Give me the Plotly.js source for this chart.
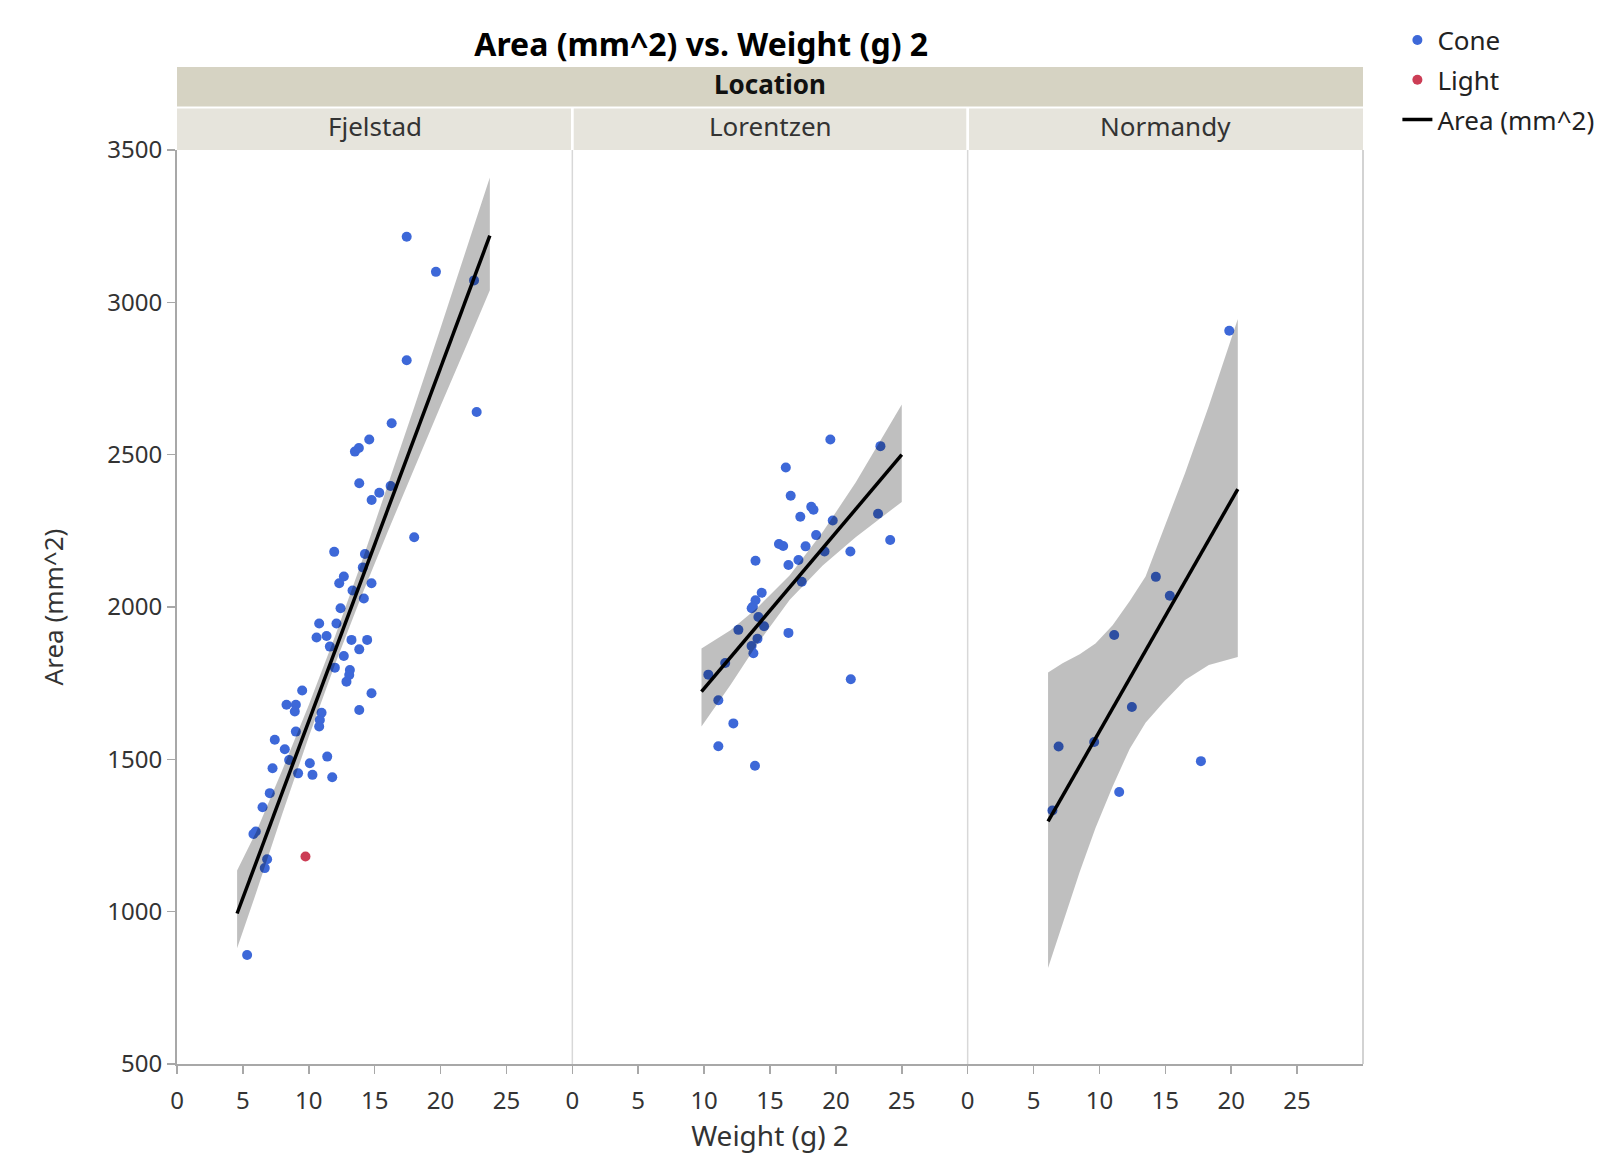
<!DOCTYPE html>
<html>
<head>
<meta charset="utf-8">
<script src="https://cdn.plot.ly/plotly-3.0.1.min.js"></script>
<style>
html,body{margin:0;padding:0;background:#fff;overflow:hidden;}
#chart{width:1597px;height:1157px;}
</style>
</head>
<body>
<div id="chart"></div>
<script>
// ---- Data ----
const locations = ["Fjelstad", "Lorentzen", "Normandy"];
const xTicks = [0, 5, 10, 15, 20, 25];
const yTicks = [500, 1000, 1500, 2000, 2500, 3000, 3500];

// Fjelstad – Cone
const fjelstadConeX = [17.43,19.65,22.54,17.43,22.74,16.29,14.59,13.5,13.8,13.83,15.35,14.77,16.21,18.0,11.93,14.26,14.1,
  12.66,12.31,14.76,13.32,14.18,12.41,10.79,12.1,10.59,11.35,11.6,13.24,14.43,13.83,12.66,11.98,13.12,13.07,12.86,
  14.76,13.83,9.5,8.31,9.02,8.94,10.97,10.84,10.79,9.02,7.42,8.18,8.51,11.4,10.08,9.19,10.28,11.78,7.25,7.04,6.49,
  5.98,5.8,6.84,6.66,5.32];
const fjelstadConeY = [3215,3100,3072,2810,2640,2603,2550,2510,2522,2406,2375,2351,2397,2229,2181,2174,2130,
  2100,2078,2078,2054,2028,1996,1946,1946,1900,1905,1870,1892,1892,1861,1839,1801,1793,1777,1755,
  1717,1662,1726,1679,1679,1657,1653,1629,1608,1591,1564,1533,1498,1509,1487,1454,1449,1441,1471,1389,1343,
  1263,1255,1172,1143,858];
// Fjelstad – Light
const fjelstadLightX = [9.75];
const fjelstadLightY = [1181];

// Lorentzen – Cone
const lorentzenConeX = [19.58,23.38,16.2,16.57,18.13,18.3,17.3,19.76,23.2,24.12,18.5,17.7,15.68,16.0,19.14,21.1,17.16,
  16.4,13.9,17.41,14.37,13.9,13.7,13.61,14.12,14.55,12.6,16.4,14.05,13.6,13.74,10.32,11.08,12.22,11.08,13.86,21.13,11.6];
const lorentzenConeY = [2550,2528,2458,2365,2329,2319,2296,2284,2306,2220,2236,2199,2207,2200,2182,2182,2154,
  2138,2152,2083,2047,2022,2001,1996,1967,1937,1925,1915,1896,1872,1848,1778,1694,1618,1543,1479,1763,1816];

// Normandy – Cone
const normandyConeX = [19.85,14.28,15.34,11.12,12.46,6.9,9.6,17.7,11.5,6.43];
const normandyConeY = [2907,2099,2037,1908,1672,1542,1557,1494,1393,1332];

// Linear fits (end points) and confidence bands
const fjelstadFitX = [4.56, 23.74];
const fjelstadFitY = [994, 3219];
const fjelstadBandX  = [4.56, 6, 8, 10, 12, 14, 16, 18, 20, 22, 23.74];
const fjelstadBandLo = [880, 1061, 1322, 1574, 1813, 2036, 2248, 2456, 2660, 2862, 3040];
const fjelstadBandHi = [1135, 1261, 1466, 1678, 1905, 2146, 2398, 2656, 2916, 3178, 3410];

const lorentzenFitX = [9.8, 25.0];
const lorentzenFitY = [1722, 2500];
const lorentzenBandX  = [9.8, 12, 14, 16.5, 19, 21.5, 25.0];
const lorentzenBandLo = [1608, 1744, 1876, 2024, 2136, 2229, 2345];
const lorentzenBandHi = [1864, 1924, 1996, 2104, 2246, 2409, 2665];

const normandyFitX = [6.1, 20.5];
const normandyFitY = [1296, 2387];
const normandyBandX  = [6.1, 7.2, 8.5, 9.7, 11.0, 12.3, 13.5, 14.8, 16.5, 18.3, 20.5];
const normandyBandLo = [815, 962, 1130, 1275, 1411, 1535, 1620, 1684, 1760, 1810, 1836];
const normandyBandHi = [1785, 1815, 1845, 1880, 1940, 2020, 2100, 2250, 2440, 2660, 2945];

// ---- Styling ----
const FONT = "'Noto Sans', 'Open Sans', sans-serif";
const BLUE = "#3d68d8";
const RED = "#cc3d55";
const AX = "#a8a8a8";

function bandTrace(bx, lo, hi, xa) {
  return {
    type: "scatter", mode: "lines", xaxis: xa, yaxis: "y",
    x: bx.concat(bx.slice().reverse()),
    y: lo.concat(hi.slice().reverse()),
    fill: "toself", fillcolor: "rgba(0,0,0,0.25)",
    line: {width: 0, color: "rgba(0,0,0,0)"},
    showlegend: false, hoverinfo: "skip"
  };
}
function pointTrace(x, y, xa, name, color, show, group, rank) {
  return {
    type: "scatter", mode: "markers", xaxis: xa, yaxis: "y",
    x: x, y: y, name: name, legendgroup: group, showlegend: show, legendrank: rank,
    marker: {color: color, size: 10, line: {width: 0}}
  };
}
function fitTrace(x, y, xa, show) {
  return {
    type: "scatter", mode: "lines", xaxis: xa, yaxis: "y",
    x: x, y: y, name: "Area (mm^2)", legendgroup: "fit", showlegend: show, legendrank: 3,
    line: {color: "#000", width: 3.5}
  };
}

const data = [
  pointTrace(fjelstadConeX, fjelstadConeY, "x", "Cone", BLUE, true, "cone", 1),
  pointTrace(fjelstadLightX, fjelstadLightY, "x", "Light", RED, true, "light", 2),
  pointTrace(lorentzenConeX, lorentzenConeY, "x2", "Cone", BLUE, false, "cone", 1),
  pointTrace(normandyConeX, normandyConeY, "x3", "Cone", BLUE, false, "cone", 1),
  bandTrace(fjelstadBandX, fjelstadBandLo, fjelstadBandHi, "x"),
  bandTrace(lorentzenBandX, lorentzenBandLo, lorentzenBandHi, "x2"),
  bandTrace(normandyBandX, normandyBandLo, normandyBandHi, "x3"),
  fitTrace(fjelstadFitX, fjelstadFitY, "x", true),
  fitTrace(lorentzenFitX, lorentzenFitY, "x2", false),
  fitTrace(normandyFitX, normandyFitY, "x3", false)
];

function xAxis(domain, title) {
  const a = {
    domain: domain, range: [0, 30], anchor: "y",
    tickmode: "array", tickvals: xTicks, ticktext: xTicks.map(String),
    ticks: "outside", ticklen: 8, tickwidth: 1.5, tickcolor: AX,
    ticklabelstandoff: 6,
    showline: true, linecolor: AX, linewidth: 2,
    showgrid: false, zeroline: false,
    tickfont: {family: FONT, size: 24, color: "#333"}
  };
  if (title) a.title = {text: title, font: {family: FONT, size: 28, color: "#333"}, standoff: 8};
  return a;
}

const H = 914; // plot height in px, for strip positions
const shapes = [
  // Location strip
  {type: "rect", xref: "paper", yref: "paper", x0: 0, x1: 1, y0: 1 + 43.5 / H, y1: 1 + 83 / H,
   fillcolor: "#d6d3c3", line: {width: 0}, layer: "below"},
  // Panel strips
  {type: "rect", xref: "paper", yref: "paper", x0: 0, x1: 0.3322, y0: 1, y1: 1 + 41.5 / H,
   fillcolor: "#e6e4dc", line: {width: 0}},
  {type: "rect", xref: "paper", yref: "paper", x0: 0.3345, x1: 0.6655, y0: 1, y1: 1 + 41.5 / H,
   fillcolor: "#e6e4dc", line: {width: 0}},
  {type: "rect", xref: "paper", yref: "paper", x0: 0.6678, x1: 1, y0: 1, y1: 1 + 41.5 / H,
   fillcolor: "#e6e4dc", line: {width: 0}},
  // Panel separators and right border
  {type: "line", xref: "paper", yref: "paper", x0: 1/3, x1: 1/3, y0: 0, y1: 1, line: {color: "#d8d8d8", width: 1.5}, layer: "below"},
  {type: "line", xref: "paper", yref: "paper", x0: 2/3, x1: 2/3, y0: 0, y1: 1, line: {color: "#d8d8d8", width: 1.5}, layer: "below"},
  {type: "line", xref: "paper", yref: "paper", x0: 1, x1: 1, y0: 0, y1: 1, line: {color: "#c4c4c4", width: 1.5}, layer: "below"}
];

const annotations = [
  {text: "<b>Location</b>", xref: "paper", yref: "paper", x: 0.5, y: 1 + 65.5 / H,
   xanchor: "center", yanchor: "middle", showarrow: false, font: {family: FONT, size: 26, color: "#111"}}
].concat(locations.map((loc, i) => ({
  text: loc, xref: "paper", yref: "paper", x: (i + 0.5) / 3, y: 1 + 24 / H,
  xanchor: "center", yanchor: "middle", showarrow: false, font: {family: FONT, size: 26, color: "#333"}
})));

const layout = {
  width: 1597, height: 1157,
  margin: {l: 177, r: 234, t: 150, b: 93, autoexpand: false},
  paper_bgcolor: "#fff", plot_bgcolor: "#fff",
  font: {family: FONT, color: "#333"},
  title: {text: "<b>Area (mm^2) vs. Weight (g) 2</b>", xref: "paper", x: 0.442, xanchor: "center",
          yref: "container", y: 1 - 45 / 1157, yanchor: "middle",
          font: {family: FONT, size: 32, color: "#000"}},
  xaxis: xAxis([0, 1/3]),
  xaxis2: xAxis([1/3, 2/3], "Weight (g) 2"),
  xaxis3: xAxis([2/3, 1]),
  yaxis: {
    range: [500, 3500], anchor: "x",
    tickmode: "array", tickvals: yTicks, ticktext: yTicks.map(String),
    ticks: "outside", ticklen: 8, tickwidth: 1.5, tickcolor: AX,
    showline: true, linecolor: AX, linewidth: 2,
    showgrid: false, zeroline: false,
    tickfont: {family: FONT, size: 24, color: "#333"},
    title: {text: "Area (mm^2)", font: {family: FONT, size: 26, color: "#333"}, standoff: 36}
  },
  showlegend: true,
  legend: {
    x: 1.029, xanchor: "left", xref: "paper", y: 1.146, yanchor: "top", yref: "paper",
    font: {family: FONT, size: 26, color: "#222"},
    bgcolor: "rgba(0,0,0,0)", traceorder: "grouped", tracegroupgap: 3
  },
  shapes: shapes,
  annotations: annotations
};

Plotly.newPlot("chart", data, layout, {displayModeBar: false, staticPlot: true});
</script>
</body>
</html>
